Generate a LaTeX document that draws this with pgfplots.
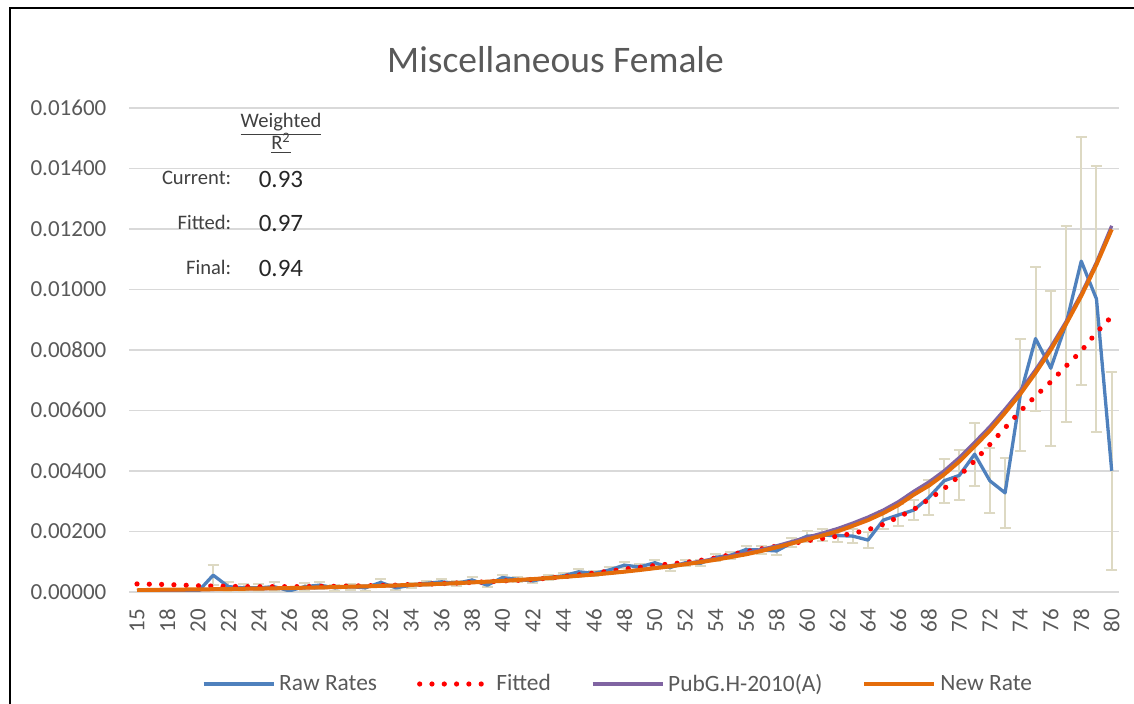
\documentclass[border=0pt]{standalone}
\usepackage{fontspec}
\setmainfont{Carlito}
\usepackage{pgfplots}
\usepackage{pgfplotstable}
\pgfplotsset{compat=1.18}
\definecolor{rawc}{HTML}{4F81BD}
\definecolor{pubc}{HTML}{8064A2}
\definecolor{newc}{HTML}{E46C0A}
\definecolor{errc}{HTML}{DDD9C3}
\definecolor{gridc}{HTML}{D9D9D9}
\definecolor{tickc}{HTML}{595959}
\definecolor{labc}{HTML}{404040}
\definecolor{valc}{HTML}{262626}

\pgfplotstableread{
i age raw err fit pub new
0 15 0 0 0.00026 0.00003 0.00005
1 17 0 0 0.00025 0.00004 0.000065
2 18 0 0 0.00024 0.00005 0.00007
3 19 0 0 0.00022 0.00006 0.000075
4 20 0 0 0.00020 0.00007 0.00008
5 21 0.00055 0.00033 0.00019 0.00008 0.000085
6 22 0.00017 0.00015 0.00018 0.00009 0.00009
7 23 0.00013 0.00012 0.00017 0.0001 0.0001
8 24 0.00013 0.00012 0.00017 0.0001 0.000105
9 25 0.00017 0.00014 0.00017 0.00011 0.000115
10 26 0.00003 0.00005 0.00017 0.00012 0.000125
11 27 0.00017 0.00013 0.00017 0.00013 0.000135
12 28 0.00022 0.00012 0.00018 0.00014 0.000145
13 29 0.00013 0.0001 0.00018 0.00015 0.000155
14 30 0.00017 0.0001 0.00019 0.00017 0.00017
15 31 0.00013 0.00009 0.0002 0.00018 0.00018
16 32 0.00031 0.00011 0.00021 0.000195 0.000195
17 33 0.00013 0.00008 0.00022 0.00021 0.00021
18 34 0.00022 0.00008 0.00024 0.00023 0.00023
19 35 0.00028 0.00008 0.00025 0.000245 0.000245
20 36 0.00033 0.00009 0.00027 0.000265 0.000265
21 37 0.00028 0.00008 0.00029 0.000285 0.000285
22 38 0.00039 0.00009 0.00031 0.00031 0.00031
23 39 0.00022 0.00007 0.00033 0.000335 0.000335
24 40 0.00047 0.00009 0.00036 0.00036 0.00036
25 41 0.00041 0.00008 0.00038 0.00039 0.00039
26 42 0.00036 0.00008 0.00041 0.00042 0.00042
27 43 0.00047 0.00008 0.00045 0.000455 0.000455
28 44 0.00053 0.00008 0.00050 0.00049 0.00049
29 45 0.00066 0.00009 0.00056 0.00053 0.00053
30 46 0.00061 0.00009 0.00062 0.00057 0.00057
31 47 0.00072 0.00009 0.00068 0.00062 0.000615
32 48 0.00088 0.0001 0.00075 0.00067 0.000665
33 49 0.00082 0.0001 0.00081 0.00073 0.00072
34 50 0.00096 0.0001 0.00087 0.00079 0.00078
35 51 0.0008 0.0001 0.00092 0.00086 0.00084
36 52 0.00096 0.0001 0.00097 0.00093 0.00091
37 53 0.00094 0.0001 0.00104 0.00101 0.00098
38 54 0.00114 0.00011 0.00112 0.0011 0.00106
39 55 0.00121 0.00012 0.00123 0.00119 0.00115
40 56 0.0014 0.00013 0.00133 0.00129 0.00124
41 57 0.00138 0.00013 0.00142 0.0014 0.00135
42 58 0.00135 0.00014 0.00151 0.00152 0.00147
43 59 0.00162 0.00015 0.00159 0.00166 0.0016
44 60 0.00184 0.00018 0.00169 0.0018 0.00173
45 61 0.00187 0.00019 0.00176 0.00194 0.00186
46 62 0.00186 0.0002 0.00184 0.00209 0.002
47 63 0.00184 0.00022 0.00193 0.00227 0.00218
48 64 0.00171 0.00027 0.00205 0.00247 0.00237
49 65 0.00237 0.0003 0.00223 0.0027 0.0026
50 66 0.00254 0.00035 0.00247 0.00298 0.00287
51 67 0.0027 0.00033 0.00272 0.00332 0.00321
52 68 0.00312 0.00058 0.00306 0.00363 0.00351
53 69 0.00367 0.00072 0.00341 0.004 0.00388
54 70 0.00385 0.00083 0.00383 0.00444 0.00431
55 71 0.00455 0.00104 0.00433 0.00494 0.00481
56 72 0.00367 0.00108 0.00487 0.00546 0.00533
57 73 0.00327 0.00116 0.00542 0.00604 0.00592
58 74 0.00651 0.00186 0.00597 0.00665 0.00654
59 75 0.00837 0.00238 0.00647 0.00734 0.00724
60 76 0.00739 0.00256 0.00694 0.00809 0.008
61 77 0.00885 0.00324 0.00746 0.00893 0.00885
62 78 0.01093 0.0041 0.00796 0.00985 0.00978
63 79 0.00968 0.0044 0.00857 0.01089 0.01082
64 80 0.004 0.00327 0.0091 0.0121 0.01198
}\datatab

\pgfplotstableread{
i raw err
5 0.00055 0.00033
6 0.00017 0.00015
7 0.00013 0.00012
8 0.00013 0.00012
9 0.00017 0.00014
10 0.00003 0.00005
11 0.00017 0.00013
12 0.00022 0.00012
13 0.00013 0.0001
14 0.00017 0.0001
15 0.00013 0.00009
16 0.00031 0.00011
17 0.00013 0.00008
18 0.00022 0.00008
19 0.00028 0.00008
20 0.00033 0.00009
21 0.00028 0.00008
22 0.00039 0.00009
23 0.00022 0.00007
24 0.00047 0.00009
25 0.00041 0.00008
26 0.00036 0.00008
27 0.00047 0.00008
28 0.00053 0.00008
29 0.00066 0.00009
30 0.00061 0.00009
31 0.00072 0.00009
32 0.00088 0.0001
33 0.00082 0.0001
34 0.00096 0.0001
35 0.0008 0.0001
36 0.00096 0.0001
37 0.00094 0.0001
38 0.00114 0.00011
39 0.00121 0.00012
40 0.0014 0.00013
41 0.00138 0.00013
42 0.00135 0.00014
43 0.00162 0.00015
44 0.00184 0.00018
45 0.00187 0.00019
46 0.00186 0.0002
47 0.00184 0.00022
48 0.00171 0.00027
49 0.00237 0.0003
50 0.00254 0.00035
51 0.0027 0.00033
52 0.00312 0.00058
53 0.00367 0.00072
54 0.00385 0.00083
55 0.00455 0.00104
56 0.00367 0.00108
57 0.00327 0.00116
58 0.00651 0.00186
59 0.00837 0.00238
60 0.00739 0.00256
61 0.00885 0.00324
62 0.01093 0.0041
63 0.00968 0.0044
64 0.004 0.00327
}\errtab

\begin{document}
\begin{tikzpicture}
\path[use as bounding box] (0,0) rectangle (567pt,352pt);
\draw[line width=1pt, black] (5pt,0pt) -- (5pt,348pt) -- (567pt,348pt);
\node[text=tickc, font=\fontsize{18.75}{22}\selectfont] at (277.75pt,322pt) {Miscellaneous Female};
\begin{axis}[
  at={(64.7pt,56.1pt)}, anchor=south west,
  scale only axis, width=494.95pt, height=242pt,
  xmin=-0.5, xmax=64.5, ymin=0, ymax=0.016,
  axis line style={draw=none},
  major tick length=0pt,
  ymajorgrids, grid style={draw=gridc, line width=0.75pt},
  xtick={0,2,...,64},
  xticklabels={15,18,20,22,24,26,28,30,32,34,36,38,40,42,44,46,48,50,52,54,56,58,60,62,64,66,68,70,72,74,76,78,80},
  xticklabel style={rotate=90, anchor=east, text=tickc, font=\fontsize{11.5}{13}\selectfont},
  xticklabel shift=5pt,
  ytick={0,0.002,0.004,0.006,0.008,0.01,0.012,0.014,0.016},
  scaled y ticks=false,
  yticklabel style={text=tickc, font=\fontsize{11.5}{13}\selectfont, /pgf/number format/.cd, fixed, fixed zerofill, precision=5, assume math mode=true},
  yticklabel shift=8pt,
  legend columns=4,
  legend image code/.code={\draw[#1] (0pt,0pt) -- (35pt,0pt);},
  legend style={at={(0.4946,-0.1905)}, anchor=center, draw=none, fill=none,
    text=tickc, font=\fontsize{11.7}{14}\selectfont,
    /tikz/every even column/.append style={column sep=18pt}},
]
\addplot[forget plot, draw=none, mark=none,
  error bars/.cd, y dir=both, y explicit,
  error bar style={draw=errc, line width=1pt},
  error mark options={draw=errc, line width=1pt, mark size=2.75pt, rotate=90}]
  table[x=i, y=raw, y error=err] {\errtab};
\addplot[draw=rawc, line width=1.65pt, line join=round, mark=none] table[x=i, y=raw] {\datatab};
\addlegendentry{Raw Rates}
\addplot[draw=red, line width=2.6pt, line cap=round, dash pattern=on 0pt off 6.15pt, mark=none] table[x=i, y=fit] {\datatab};
\addlegendentry{Fitted}
\addplot[draw=pubc, line width=1.65pt, line join=round, mark=none] table[x=i, y=pub] {\datatab};
\addlegendentry{PubG.H-2010(A)}
\addplot[draw=newc, line width=2pt, line join=round, mark=none] table[x=i, y=new] {\datatab};
\addlegendentry{New Rate}
\end{axis}
\node[anchor=base, text=labc, font=\fontsize{10.3}{12}\selectfont] at (140.5pt,288pt) {\underline{Weighted}};
\node[anchor=base, text=labc, font=\fontsize{10.3}{12}\selectfont] at (140.5pt,277pt) {\underline{R\textsuperscript{2}}};
\node[anchor=base east, text=labc, font=\fontsize{10.3}{12}\selectfont, inner sep=0pt] at (115.8pt,259.5pt) {Current:};
\node[anchor=base east, text=labc, font=\fontsize{10.3}{12}\selectfont, inner sep=0pt] at (115.8pt,237.3pt) {Fitted:};
\node[anchor=base east, text=labc, font=\fontsize{10.3}{12}\selectfont, inner sep=0pt] at (115.8pt,214.8pt) {Final:};
\node[anchor=base west, text=valc, font=\fontsize{12.5}{14}\selectfont, inner sep=0pt] at (129.2pt,258.3pt) {0.93};
\node[anchor=base west, text=valc, font=\fontsize{12.5}{14}\selectfont, inner sep=0pt] at (129.2pt,236.2pt) {0.97};
\node[anchor=base west, text=valc, font=\fontsize{12.5}{14}\selectfont, inner sep=0pt] at (129.2pt,213.7pt) {0.94};
\end{tikzpicture}
\end{document}
